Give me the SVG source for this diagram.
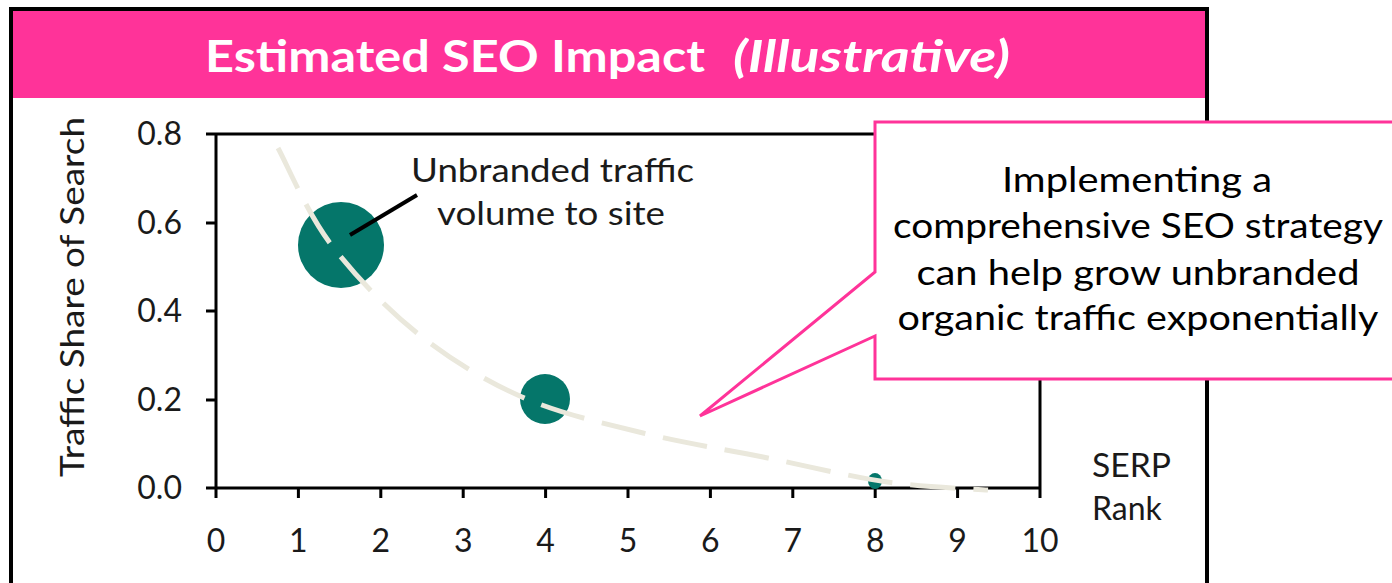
<svg xmlns="http://www.w3.org/2000/svg" width="1392" height="583" viewBox="0 0 1392 583">
<style>
.t{font-family:Lato,"Liberation Sans",sans-serif;fill:#1a1a1a}
.tick{font-size:32px;text-anchor:middle}
.ytick{font-size:32px;text-anchor:end}
.ax{stroke:#000;stroke-width:3;fill:none}
.bub{fill:#05766A}
.ttl{font-family:Lato,"Liberation Sans",sans-serif;font-weight:bold;font-size:44px;fill:#fff}
</style>
<rect width="1392" height="583" fill="#fff"/>
<g id="frame">
<path d="M11 583 V9 H1207 V583" fill="none" stroke="#000" stroke-width="4"/>
<rect x="13" y="11" width="1192" height="87" fill="#FF3399"/>
<text class="ttl" x="205" y="72" textLength="500" lengthAdjust="spacingAndGlyphs">Estimated SEO Impact</text>
<text class="ttl" x="733" y="72" font-style="italic" textLength="277" lengthAdjust="spacingAndGlyphs">(Illustrative)</text>
</g>
<g id="axes">
<path class="ax" d="M216 134 H1040 V488 M206 488 H1040 M216 134 V498"/>
<path class="ax" d="M206 134 H216 M206 223 H216 M206 311 H216 M206 400 H216 M298.4 488 V498 M380.8 488 V498 M463.2 488 V498 M545.6 488 V498 M628 488 V498 M710.4 488 V498 M792.8 488 V498 M875.2 488 V498 M957.6 488 V498 M1040 488 V498"/>
<g class="t ytick">
<text x="182" y="145">0.8</text>
<text x="182" y="234">0.6</text>
<text x="182" y="322">0.4</text>
<text x="182" y="411">0.2</text>
<text x="182" y="499">0.0</text>
</g>
<g class="t tick">
<text x="216" y="552">0</text>
<text x="298.4" y="552">1</text>
<text x="380.8" y="552">2</text>
<text x="463.2" y="552">3</text>
<text x="545.6" y="552">4</text>
<text x="628" y="552">5</text>
<text x="710.4" y="552">6</text>
<text x="792.8" y="552">7</text>
<text x="875.2" y="552">8</text>
<text x="957.6" y="552">9</text>
<text x="1040" y="552">10</text>
</g>
<text class="t" transform="translate(84,297) rotate(-90)" text-anchor="middle" font-size="32" textLength="360" lengthAdjust="spacingAndGlyphs">Traffic Share of Search</text>
<text class="t" x="1092" y="477" font-size="32" textLength="79" lengthAdjust="spacingAndGlyphs">SERP</text>
<text class="t" x="1092" y="520" font-size="32">Rank</text>
</g>
<g id="bubbles">
<circle class="bub" cx="341" cy="245" r="43"/>
<circle class="bub" cx="545" cy="399" r="25"/>
<ellipse class="bub" cx="875" cy="481" rx="7" ry="8"/>
</g>
<g id="connectors">
<path d="M278 148 C286.7 163.8 306.8 212.2 330 243 C353.2 273.8 385 307.3 417 333 C449 358.7 484.3 380.3 522 397 C559.7 413.7 602.8 423 643 433 C683.2 443 722.3 448.8 763 457 C803.7 465.2 849.5 476.5 887 482 C924.5 487.5 971.2 488.7 988 490" fill="none" stroke="#EAE8DC" stroke-width="5" stroke-dasharray="45 18"/>
<line x1="350" y1="235" x2="417" y2="195" stroke="#000" stroke-width="4"/>
</g>
<g id="label">
<text class="t" x="411" y="182" font-size="32" textLength="283" lengthAdjust="spacingAndGlyphs">Unbranded traffic</text>
<text class="t" x="437" y="225" font-size="32" textLength="228" lengthAdjust="spacingAndGlyphs">volume to site</text>
</g>
<g id="callout">
<path d="M875 122 H1396 V379 H875 V336 L700 416 L875 272 Z" fill="#fff" stroke="#FF3399" stroke-width="3"/>
<g class="t" font-size="34" text-anchor="middle" style="fill:#000">
<text x="1137" y="192" textLength="270" lengthAdjust="spacingAndGlyphs">Implementing a</text>
<text x="1138" y="238" textLength="490" lengthAdjust="spacingAndGlyphs">comprehensive SEO strategy</text>
<text x="1138" y="285" textLength="443" lengthAdjust="spacingAndGlyphs">can help grow unbranded</text>
<text x="1138" y="330" textLength="481" lengthAdjust="spacingAndGlyphs">organic traffic exponentially</text>
</g>
</g>
</svg>
